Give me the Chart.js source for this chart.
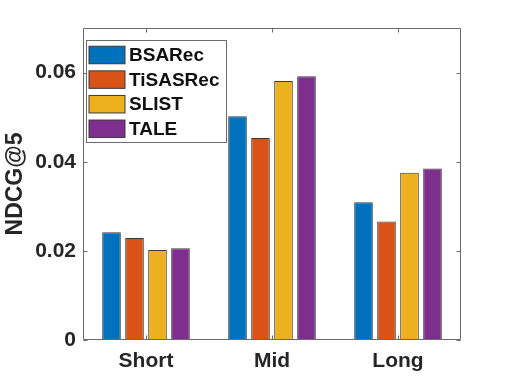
<!DOCTYPE html>
<html>
<head>
<meta charset="utf-8">
<script src="https://cdn.jsdelivr.net/npm/chart.js@4/dist/chart.umd.min.js"></script>
<style>
  html, body { margin: 0; padding: 0; background: #ffffff; }
  #wrap { width: 509px; height: 382px; }
</style>
</head>
<body>
<div id="wrap"><canvas id="c" width="509" height="382"></canvas></div>
<script>
// ---- data ----
const categories = ['Short', 'Mid', 'Long'];
const seriesNames = ['BSARec', 'TiSASRec', 'SLIST', 'TALE'];
const BSARec   = [0.0242, 0.0502, 0.0309];
const TiSASRec = [0.0229, 0.0453, 0.0266];
const SLIST    = [0.0202, 0.0581, 0.0375];
const TALE     = [0.0206, 0.0592, 0.0385];
const yTickValues = [0, 0.02, 0.04, 0.06];
const yTickLabels = ['0', '0.02', '0.04', '0.06'];
const yMax = 0.07;

const colors = ['#0072BD', '#D95319', '#EDB120', '#7E2F8E'];
const seriesValues = [BSARec, TiSASRec, SLIST, TALE];
const FONT = '"Liberation Sans", Arial, Helvetica, sans-serif';
const AXIS_COLOR = '#6a6a6a';
const TEXT_COLOR = '#262626';

const framePlugin = {
  id: 'frame',
  afterDatasetsDraw(chart) {
    const ctx = chart.ctx;
    const a = chart.chartArea;
    const xs = chart.scales.x, ys = chart.scales.y;
    const L = Math.round(a.left) + 0.5, R = Math.round(a.right) - 0.5;
    const T = Math.round(a.top) + 0.5, B = Math.round(a.bottom) - 0.5;
    ctx.save();
    ctx.strokeStyle = AXIS_COLOR;
    ctx.lineWidth = 1;
    ctx.beginPath();
    ctx.rect(L, T, R - L, B - T);
    ctx.stroke();
    const tl = 4;
    ctx.beginPath();
    yTickValues.forEach(v => {
      const y = Math.round(ys.getPixelForValue(v)) + 0.5;
      ctx.moveTo(L, y); ctx.lineTo(L + tl, y);
      ctx.moveTo(R, y); ctx.lineTo(R - tl, y);
    });
    categories.forEach((c, i) => {
      const x = Math.round(xs.getPixelForValue(i)) + 0.5;
      ctx.moveTo(x, B); ctx.lineTo(x, B - tl);
      ctx.moveTo(x, T); ctx.lineTo(x, T + tl);
    });
    ctx.stroke();
    ctx.restore();
  }
};

const legendPlugin = {
  id: 'boxLegend',
  afterDraw(chart) {
    const ctx = chart.ctx;
    const a = chart.chartArea;
    const bx = a.left + 3.5, by = a.top + 12.5;
    const bw = 140, bh = 102;
    ctx.save();
    ctx.fillStyle = '#ffffff';
    ctx.fillRect(bx, by, bw, bh);
    ctx.strokeStyle = AXIS_COLOR;
    ctx.lineWidth = 1;
    ctx.strokeRect(bx, by, bw, bh);
    ctx.font = 'bold 19px ' + FONT;
    ctx.textBaseline = 'middle';
    ctx.textAlign = 'left';
    chart.data.datasets.forEach((ds, i) => {
      const cy = by + 14.5 + i * 24.6;
      const sx = bx + 2.5, sw = 36, sh = 17.5;
      ctx.fillStyle = ds.backgroundColor;
      ctx.fillRect(sx, cy - sh / 2, sw, sh);
      ctx.strokeStyle = '#3a3a3a';
      ctx.strokeRect(sx, cy - sh / 2, sw, sh);
      ctx.fillStyle = '#111111';
      ctx.fillText(ds.label, bx + 42.5, cy + 1);
    });
    ctx.restore();
  }
};

new Chart(document.getElementById('c'), {
  type: 'bar',
  data: {
    labels: categories,
    datasets: seriesNames.map((name, i) => ({
      label: name,
      data: seriesValues[i],
      backgroundColor: colors[i],
      borderColor: '#3a3a3a',
      borderWidth: 1,
      borderSkipped: false,
      categoryPercentage: 0.73,
      barPercentage: 0.81
    }))
  },
  options: {
    responsive: false,
    devicePixelRatio: 1,
    animation: false,
    layout: { padding: { top: 28, right: 48, bottom: 0, left: 0 } },
    plugins: { legend: { display: false }, tooltip: { enabled: false } },
    scales: {
      x: {
        offset: true,
        grid: { display: false, drawTicks: false },
        border: { display: false },
        ticks: {
          color: TEXT_COLOR,
          font: { family: FONT, size: 21, weight: 'bold' },
          padding: 9,
          maxRotation: 0
        },
        afterFit(scale) { scale.height = 42; }
      },
      y: {
        min: 0,
        max: yMax,
        grid: { display: false, drawTicks: false },
        border: { display: false },
        afterBuildTicks(scale) { scale.ticks = yTickValues.map(v => ({ value: v })); },
        ticks: {
          color: TEXT_COLOR,
          font: { family: FONT, size: 21, weight: 'bold' },
          padding: 7,
          callback(value) {
            const idx = yTickValues.findIndex(v => Math.abs(v - value) < 1e-9);
            return idx >= 0 ? yTickLabels[idx] : '';
          }
        },
        title: {
          display: true,
          text: 'NDCG@5',
          color: TEXT_COLOR,
          font: { family: FONT, size: 23, weight: 'bold' },
          padding: { top: 2, bottom: 0 }
        },
        afterFit(scale) { scale.width = 83; }
      }
    }
  },
  plugins: [framePlugin, legendPlugin]
});
</script>
</body>
</html>
